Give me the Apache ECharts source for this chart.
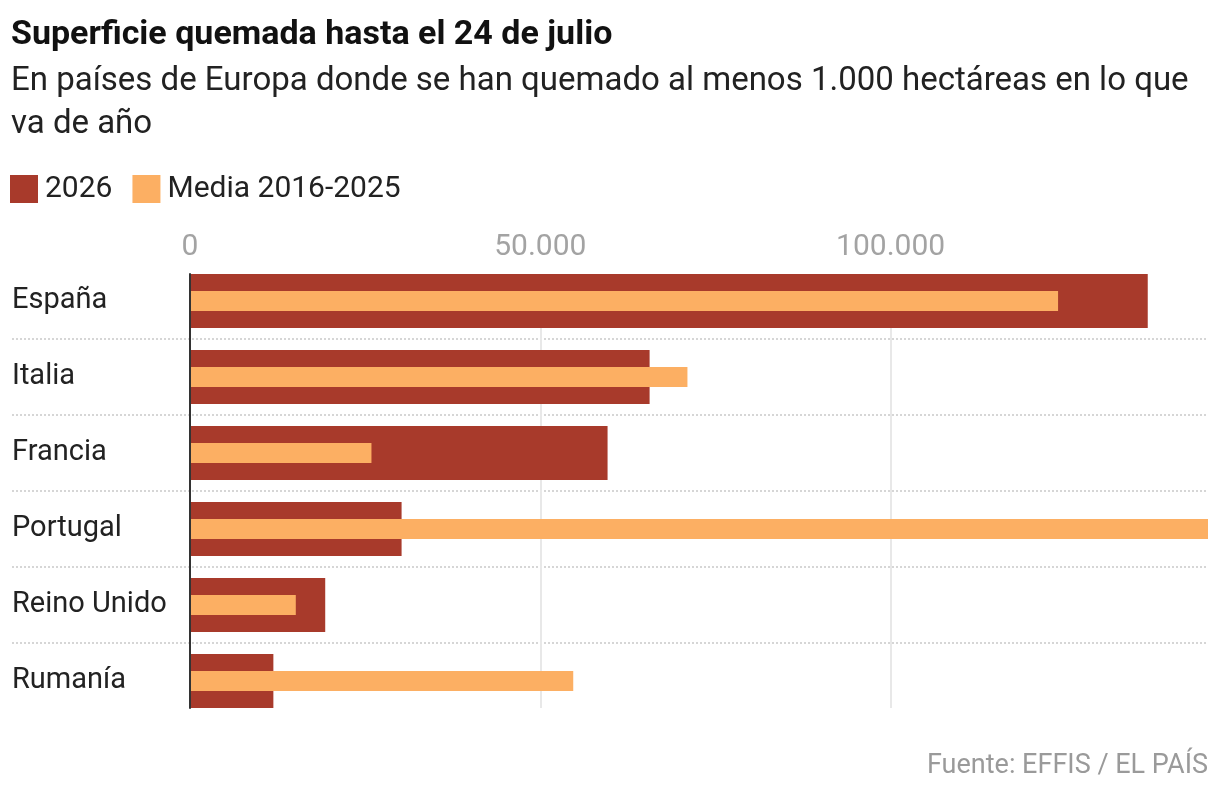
<!DOCTYPE html>
<html>
<head>
<meta charset="utf-8">
<script src="https://cdn.jsdelivr.net/npm/echarts@6/dist/echarts.min.js"></script>
<style>
  html, body { margin: 0; padding: 0; background: #fff; }
  #chart { width: 1220px; height: 792px; }
</style>
</head>
<body>
<div id="chart"></div>
<script>
// datos: hectáreas quemadas hasta el 24 de julio
const categories = ['España', 'Italia', 'Francia', 'Portugal', 'Reino Unido', 'Rumanía'];
const values2026 = [136700, 65600, 59600, 30200, 19300, 11900];
const valuesMedia = [123900, 71000, 25900, 145300, 15100, 54700];
const tickStep = 50000;

const seriesNames = ['2026', 'Media 2016-2025'];
const colors = ['#a83a2b', '#fcaf63'];
const font = 'Roboto, "Noto Sans", sans-serif';

// el eje llega justo hasta el valor más grande
const xMax = Math.max(...values2026, ...valuesMedia);

function fmt(v) {
  return String(v).replace(/\B(?=(\d{3})+(?!\d))/g, '.');
}

const chart = echarts.init(document.getElementById('chart'), null, { renderer: 'canvas' });

// eje de categorías oculto (para las barras superpuestas, cada serie en su propio eje)
function hiddenCat(grid) {
  return {
    gridIndex: grid, type: 'category', data: categories, inverse: true,
    axisLine: { show: false }, axisTick: { show: false }, axisLabel: { show: false }, splitLine: { show: false }
  };
}

const option = {
  backgroundColor: '#ffffff',
  animation: false,
  title: [
    {
      text: 'Superficie quemada hasta el 24 de julio',
      left: 11, top: 16, padding: 0,
      textStyle: { fontFamily: font, fontSize: 34, fontWeight: 'bold', color: '#111', lineHeight: 38 }
    },
    {
      text: 'En países de Europa donde se han quemado al menos 1.000 hectáreas en lo que\nva de año',
      left: 11, top: 60, padding: 0,
      textStyle: { fontFamily: font, fontSize: 33, fontWeight: 'normal', color: '#222', lineHeight: 43 }
    },
    {
      text: 'Fuente: EFFIS / EL PAÍS',
      right: 12, top: 751, padding: 0,
      textStyle: { fontFamily: font, fontSize: 27, fontWeight: 'normal', color: '#9a9a9a', lineHeight: 30 }
    }
  ],
  legend: {
    left: 10, top: 174,
    itemWidth: 28, itemHeight: 28, itemGap: 20,
    icon: 'rect',
    padding: 0,
    textStyle: { fontFamily: font, fontSize: 30, color: '#222', padding: [0, 0, 0, 2] },
    data: seriesNames
  },
  grid: [
    // separadores entre filas
    { left: 12, right: 12, top: 263, bottom: 73 },
    // líneas de referencia verticales y eje
    { left: 190, right: 12, top: 274, bottom: 84 },
    // barras
    { left: 190, right: 12, top: 263, bottom: 73 }
  ],
  xAxis: [
    { gridIndex: 0, type: 'value', show: false },
    {
      gridIndex: 1, type: 'value', position: 'top',
      min: 0, max: xMax, interval: tickStep,
      axisLine: { show: false }, axisTick: { show: false },
      axisLabel: {
        fontFamily: font, fontSize: 30, color: '#a3a3a3', margin: 12,
        showMaxLabel: false, formatter: fmt
      },
      splitLine: { show: true, showMinLine: false, showMaxLine: false, lineStyle: { color: '#e8e8e8', width: 2 } }
    },
    { gridIndex: 2, type: 'value', min: 0, max: xMax, show: false }
  ],
  yAxis: [
    {
      gridIndex: 0, type: 'category', data: categories, inverse: true,
      axisLine: { show: false }, axisTick: { show: false }, axisLabel: { show: false },
      splitLine: { show: true, showMinLine: false, showMaxLine: false, lineStyle: { color: '#d6d6d6', width: 2, type: [2, 2] } }
    },
    {
      gridIndex: 1, type: 'category', data: categories, inverse: true, z: 10,
      axisLine: { show: true, lineStyle: { color: '#333', width: 2 } },
      axisTick: { show: false }, axisLabel: { show: false }, splitLine: { show: false }
    },
    {
      gridIndex: 2, type: 'category', data: categories, inverse: true,
      axisLine: { show: false }, axisTick: { show: false }, splitLine: { show: false },
      axisLabel: { fontFamily: font, fontSize: 29, color: '#222', align: 'left', margin: 178 }
    },
    hiddenCat(2)
  ],
  series: [
    {
      name: seriesNames[0], type: 'bar', xAxisIndex: 2, yAxisIndex: 2,
      data: values2026, barWidth: 54,
      itemStyle: { color: colors[0] }
    },
    {
      name: seriesNames[1], type: 'bar', xAxisIndex: 2, yAxisIndex: 3,
      data: valuesMedia, barWidth: 20,
      itemStyle: { color: colors[1] }
    }
  ]
};

chart.setOption(option);
</script>
</body>
</html>
